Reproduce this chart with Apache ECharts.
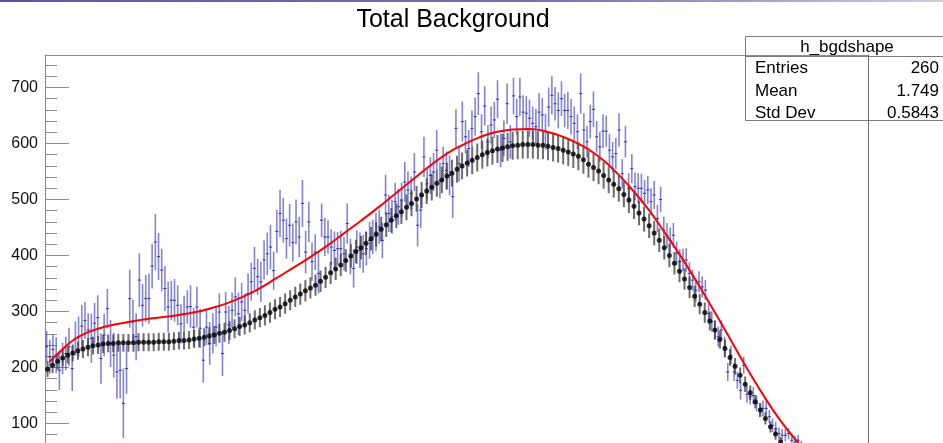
<!DOCTYPE html>
<html>
<head>
<meta charset="utf-8">
<script src="https://cdn.jsdelivr.net/npm/echarts@6.0.0/dist/echarts.min.js"></script>
<style>
  html, body { margin: 0; padding: 0; background: #ffffff; }
  #chart { width: 943px; height: 443px; }
</style>
</head>
<body>
<div id="chart"></div>
<script>
// ---- histogram contents ----------------------------------------------------
// h_bgdshape: per-bin contents (blue), fixed-width bins starting at x = 0
const BLUE_BIN_WIDTH = 0.0136;
const blueValues = [
  237, 219, 232, 222, 195, 216, 225, 237, 198, 252, 255, 274, 284, 267, 252, 279, 289, 216, 258, 305, 243,
  222, 192, 195, 136, 198, 323, 281, 255, 356, 311, 323, 323, 381, 424, 398, 374, 341, 308, 320, 320, 311,
  278, 296, 308, 309, 272, 308, 270, 213, 272, 243, 261, 272, 299, 225, 299, 276, 302, 326, 296, 317, 302,
  332, 353, 377, 362, 353, 392, 403, 415, 373, 443, 475, 463, 430, 454, 423, 460, 433, 493, 406, 460, 389,
  406, 368, 463, 433, 433, 415, 409, 412, 412, 403, 457, 398, 377, 415, 409, 403, 412, 427, 433, 442, 451,
  427, 508, 475, 469, 496, 487, 499, 531, 517, 511, 549, 454, 481, 576, 528, 543, 549, 588, 534, 564, 552,
  543, 505, 627, 564, 639, 612, 591, 627, 648, 689, 621, 667, 603, 633, 642, 679, 588, 609, 671, 603, 685,
  648, 683, 656, 654, 645, 636, 630, 656, 651, 621, 665, 686, 671, 659, 680, 659, 659, 648, 636, 621, 689,
  624, 603, 639, 661, 612, 594, 622, 622, 588, 576, 582, 624, 546, 603, 520, 555, 523, 520, 520, 511, 517,
  496, 508, 466, 500, 445, 436, 427, 436, 404, 389, 392, 392, 368, 356, 338, 353, 344, 338, 296, 282,
  267, 255, 267, 237, 192, 222, 192, 177, 159, 204, 152, 148, 150, 136, 124, 127, 127, 112, 97, 91, 82,
  79, 79, 82, 70, 67, 70,
  60, 55, 50, 44, 40, 36, 30, 27, 23, 20, 17, 14, 12, 10, 8, 6, 5, 4, 3, 2, 2, 1
];
const blueErrors = [
  28, 30, 26, 32, 35, 28, 30, 34, 40, 30, 36, 38, 33, 30, 44, 36, 40, 45, 38, 35, 42,
  40, 48, 50, 62, 45, 52, 40, 42, 48, 38, 42, 45, 40, 50, 42, 38, 40, 45, 35, 38, 36,
  35, 32, 30, 38, 34, 36, 35, 40, 32, 38, 36, 34, 33, 40, 36, 34, 32, 35, 38, 34, 30,
  36, 34, 38, 32, 36, 35, 38, 40, 34, 38, 42, 40, 36, 38, 34, 40, 36, 42, 38, 36, 34,
  32, 36, 30, 34, 30, 32, 34, 30, 32, 30, 36, 32, 34, 30, 32, 34, 30, 33, 31, 34, 30,
  32, 36, 33, 30, 34, 32, 31, 36, 33, 30, 34, 38, 32, 36, 30, 33, 34, 36, 32, 30, 34,
  36, 38, 34, 32, 36, 30, 33, 32, 34, 38, 31, 35, 30, 33, 32, 34, 30, 32, 36, 30, 33,
  32, 34, 30, 31, 33, 30, 32, 34, 30, 32, 35, 34, 30, 32, 31, 30, 33, 32, 30, 31, 36,
  30, 28, 30, 32, 28, 27, 30, 28, 29, 27, 28, 30, 26, 28, 27, 26, 25, 27, 26, 24, 25,
  24, 25, 24, 23, 24, 22, 23, 22, 21, 22, 20, 21, 20, 19, 20, 19, 19, 18, 18, 18,
  17, 18, 17, 18, 16, 17, 16, 15, 16, 15, 15, 14, 15, 14, 13, 14, 13, 12, 12, 12, 11,
  11, 11, 10, 10, 10, 10,
  9, 9, 8, 8, 8, 7, 7, 6, 6, 5, 5, 5, 4, 4, 4, 3, 3, 3, 2, 2, 2, 1
];

// smoothed background shape (black points with grey error bars)
const BLACK_BIN_WIDTH = 0.0215;
const blackValues = [
  197, 204, 211, 217, 222, 226, 230, 233, 236, 239, 240, 242, 243, 243, 244, 244, 244, 244, 245, 245,
  245, 245, 246, 246, 246, 247, 248, 248, 249, 251, 252, 254, 256, 258, 261, 263, 266, 269, 273, 276,
  280, 285, 289, 293, 298, 304, 308, 314, 320, 326, 331, 337, 342, 347, 354, 361, 369, 376, 383, 391,
  399, 407, 414, 422, 430, 438, 447, 455, 463, 471, 478, 486, 493, 501, 508, 515, 522, 529, 535, 542,
  547, 554, 560, 565, 570, 575, 580, 584, 587, 590, 592, 594, 596, 597, 598, 598, 598, 597, 597, 595,
  593, 591, 588, 585, 581, 577, 571, 563, 557, 551, 543, 535, 527, 519, 509, 499, 488, 476, 465, 453,
  440, 427, 414, 400, 386, 372, 358, 343, 327, 313, 298, 283, 267, 250, 234, 218, 202, 186, 170, 155,
  139, 124, 109, 94, 81, 67, 55, 44, 34, 26, 19, 13, 9, 6, 4, 2
];
const blackErrors = [
  14, 14, 15, 15, 15, 15, 16, 16, 16, 16, 16, 16, 16, 16, 16, 16, 16, 16, 16, 16,
  16, 16, 16, 16, 16, 16, 16, 16, 16, 16, 16, 16, 16, 16, 17, 17, 17, 17, 17, 17,
  17, 17, 17, 18, 18, 18, 18, 18, 18, 18, 19, 19, 19, 19, 19, 19, 20, 20, 20, 20,
  21, 21, 21, 21, 21, 22, 22, 22, 22, 22, 22, 23, 23, 23, 23, 23, 24, 24, 24, 24,
  24, 24, 24, 24, 25, 25, 25, 25, 25, 25, 25, 25, 25, 25, 25, 25, 25, 25, 25, 25,
  25, 25, 25, 25, 25, 25, 25, 24, 24, 24, 24, 24, 24, 23, 23, 23, 23, 22, 22, 22,
  22, 21, 21, 21, 20, 20, 19, 19, 19, 18, 18, 17, 17, 16, 16, 15, 15, 14, 14, 13,
  12, 12, 11, 10, 10, 9, 8, 7, 6, 5, 5, 4, 3, 3, 2, 2
];

// fitted shape (red curve)
const fitX = [
  0.0190, 0.0680, 0.1246, 0.1956, 0.2666, 0.3372, 0.4083, 0.4793, 0.5571, 0.6421, 0.6987, 0.7697,
  0.8407, 0.9113, 0.9823, 1.0533, 1.1311, 1.2022, 1.2728, 1.3438, 1.4149, 1.4855, 1.5565, 1.6275,
  1.7096, 1.7764, 1.8469, 1.9180, 1.9890, 2.0596, 2.1306, 2.2016, 2.2752, 2.3505, 2.4211, 2.4921,
  2.5631, 2.6337, 2.7047, 2.7758, 2.8493, 2.9246, 2.9952, 3.0662, 3.1373, 3.2011, 3.2576
];
const fitY = [
  210, 230, 250, 265, 274, 280, 285, 289, 293, 299, 305, 314,
  326, 341, 359, 377.5, 398, 418, 440, 462, 485, 509, 533, 557,
  582, 597.5, 611, 620.5, 625, 626, 621.5, 612, 598, 578, 552, 520,
  484, 442, 398, 350, 298, 243, 191.5, 143, 99.6, 66.6, 40
];

// axis
const X_RANGE = [0, 3.5];
const Y_RANGE = [0, 758];
const yMajorTicks = [100, 200, 300, 400, 500, 600, 700];
const yMinorTicks = [20, 40, 60, 80, 120, 140, 160, 180, 220, 240, 260, 280, 320, 340, 360, 380,
  420, 440, 460, 480, 520, 540, 560, 580, 620, 640, 660, 680, 720, 740];

// stats box
const statsTitle = 'h_bgdshape';
const statsRows = [['Entries', '260'], ['Mean', '1.749'], ['Std Dev', '0.5843']];

// ---- build chart ------------------------------------------------------------
const FONT = '"Liberation Sans", Arial, Helvetica, sans-serif';
const AXIS_GREY = '#8c8c8c';

const blueData = blueValues.map((v, i) => [(i + 0.5) * BLUE_BIN_WIDTH, v, blueErrors[i] || 0]);
const blackData = blackValues.map((v, j) => [(j + 0.5) * BLACK_BIN_WIDTH, v, blackErrors[j] || 0]);
const fitData = fitX.map((x, k) => [x, fitY[k]]);

function errorBars(halfWidth, vColor, vWidth, hColor, hWidth) {
  return function (params, api) {
    const x = api.value(0), v = api.value(1), e = api.value(2);
    const top = api.coord([x, v + e]);
    const bot = api.coord([x, v - e]);
    const children = [{
      type: 'line',
      shape: { x1: top[0], y1: top[1], x2: bot[0], y2: bot[1] },
      style: { stroke: vColor, lineWidth: vWidth }
    }];
    if (halfWidth > 0) {
      const l = api.coord([x - halfWidth, v]);
      const r = api.coord([x + halfWidth, v]);
      children.push({
        type: 'line',
        shape: { x1: l[0], y1: l[1], x2: r[0], y2: r[1] },
        style: { stroke: hColor, lineWidth: hWidth }
      });
    }
    return { type: 'group', children: children };
  };
}

const chart = echarts.init(document.getElementById('chart'), null, { renderer: 'canvas' });

chart.setOption({
  animation: false,
  backgroundColor: '#ffffff',
  grid: { left: 45, top: 55, width: 823, height: 758 * 0.56, outerBoundsMode: 'none', containLabel: false },
  xAxis: [
    { type: 'value', min: X_RANGE[0], max: X_RANGE[1], show: false },
    {
      type: 'value', position: 'top', min: X_RANGE[0], max: X_RANGE[1],
      axisLine: { show: true, onZero: false, lineStyle: { color: AXIS_GREY, width: 1 } },
      axisTick: { show: false }, axisLabel: { show: false }, splitLine: { show: false }
    }
  ],
  yAxis: [
    {
      type: 'value', position: 'left', min: Y_RANGE[0], max: Y_RANGE[1],
      axisLine: { show: true, onZero: false, lineStyle: { color: AXIS_GREY, width: 1 } },
      axisTick: { show: true, inside: true, length: 24, customValues: yMajorTicks,
        lineStyle: { color: AXIS_GREY, width: 1 } },
      axisLabel: { show: true, customValues: yMajorTicks, margin: 7, color: '#111111',
        fontFamily: FONT, fontSize: 16 },
      splitLine: { show: false }
    },
    {
      type: 'value', position: 'left', min: Y_RANGE[0], max: Y_RANGE[1],
      axisLine: { show: false },
      axisTick: { show: true, inside: true, length: 12, customValues: yMinorTicks,
        lineStyle: { color: AXIS_GREY, width: 1 } },
      axisLabel: { show: false },
      splitLine: { show: false }
    },
    {
      type: 'value', position: 'right', min: Y_RANGE[0], max: Y_RANGE[1],
      axisLine: { show: true, onZero: false, lineStyle: { color: '#6e6e6e', width: 1 } },
      axisTick: { show: false }, axisLabel: { show: false }, splitLine: { show: false }
    }
  ],
  series: [
    {
      name: 'h_bgdshape', type: 'custom', xAxisIndex: 0, yAxisIndex: 0, clip: true, z: 2,
      data: blueData,
      renderItem: errorBars(BLUE_BIN_WIDTH / 2, 'rgba(55, 55, 200, 0.62)', 1.6, 'rgba(40, 40, 170, 0.9)', 1)
    },
    {
      name: 'shape errors', type: 'custom', xAxisIndex: 0, yAxisIndex: 0, clip: true, z: 3,
      data: blackData,
      renderItem: errorBars(0, 'rgba(60, 60, 60, 0.75)', 2)
    },
    {
      name: 'shape', type: 'scatter', xAxisIndex: 0, yAxisIndex: 0, clip: true, z: 4,
      symbol: 'circle', symbolSize: 5,
      itemStyle: { color: '#000000' },
      data: blackData.map(d => [d[0], d[1]])
    },
    {
      name: 'fit', type: 'line', xAxisIndex: 0, yAxisIndex: 0, clip: true, z: 5,
      smooth: 0.5, showSymbol: false,
      lineStyle: { color: '#ff0000', width: 2 },
      data: fitData
    }
  ],
  graphic: [
    {
      // thin window edge along the top
      type: 'rect', z: 30, shape: { x: 0, y: 0, width: 943, height: 2 },
      style: { fill: new echarts.graphic.LinearGradient(0, 0, 1, 0, [
        { offset: 0, color: '#5e55a0' }, { offset: 0.6, color: '#7a74b0' }, { offset: 1, color: '#cfcce0' }
      ]) }
    },
    {
      type: 'text', x: 453, y: 20, z: 10,
      style: { text: 'Total Background', fill: '#000000', font: '25px ' + FONT,
        align: 'center', verticalAlign: 'middle' }
    },
    {
      type: 'group', z: 20,
      children: [
        { type: 'rect', shape: { x: 745.5, y: 36.5, width: 200, height: 84 },
          style: { fill: '#ffffff', stroke: '#7a7a7a', lineWidth: 1 } },
        { type: 'line', shape: { x1: 745.5, y1: 56.5, x2: 945, y2: 56.5 },
          style: { stroke: '#7a7a7a', lineWidth: 1 } },
        { type: 'text', x: 847, y: 47, style: { text: statsTitle, fill: '#000', font: '17px ' + FONT,
          align: 'center', verticalAlign: 'middle' } }
      ].concat(statsRows.flatMap((row, k) => [
        { type: 'text', x: 755, y: 68.5 + k * 22.5, style: { text: row[0], fill: '#000',
          font: '17px ' + FONT, align: 'left', verticalAlign: 'middle' } },
        { type: 'text', x: 939, y: 68.5 + k * 22.5, style: { text: row[1], fill: '#000',
          font: '17px ' + FONT, align: 'right', verticalAlign: 'middle' } }
      ]))
    }
  ]
});
</script>
</body>
</html>
